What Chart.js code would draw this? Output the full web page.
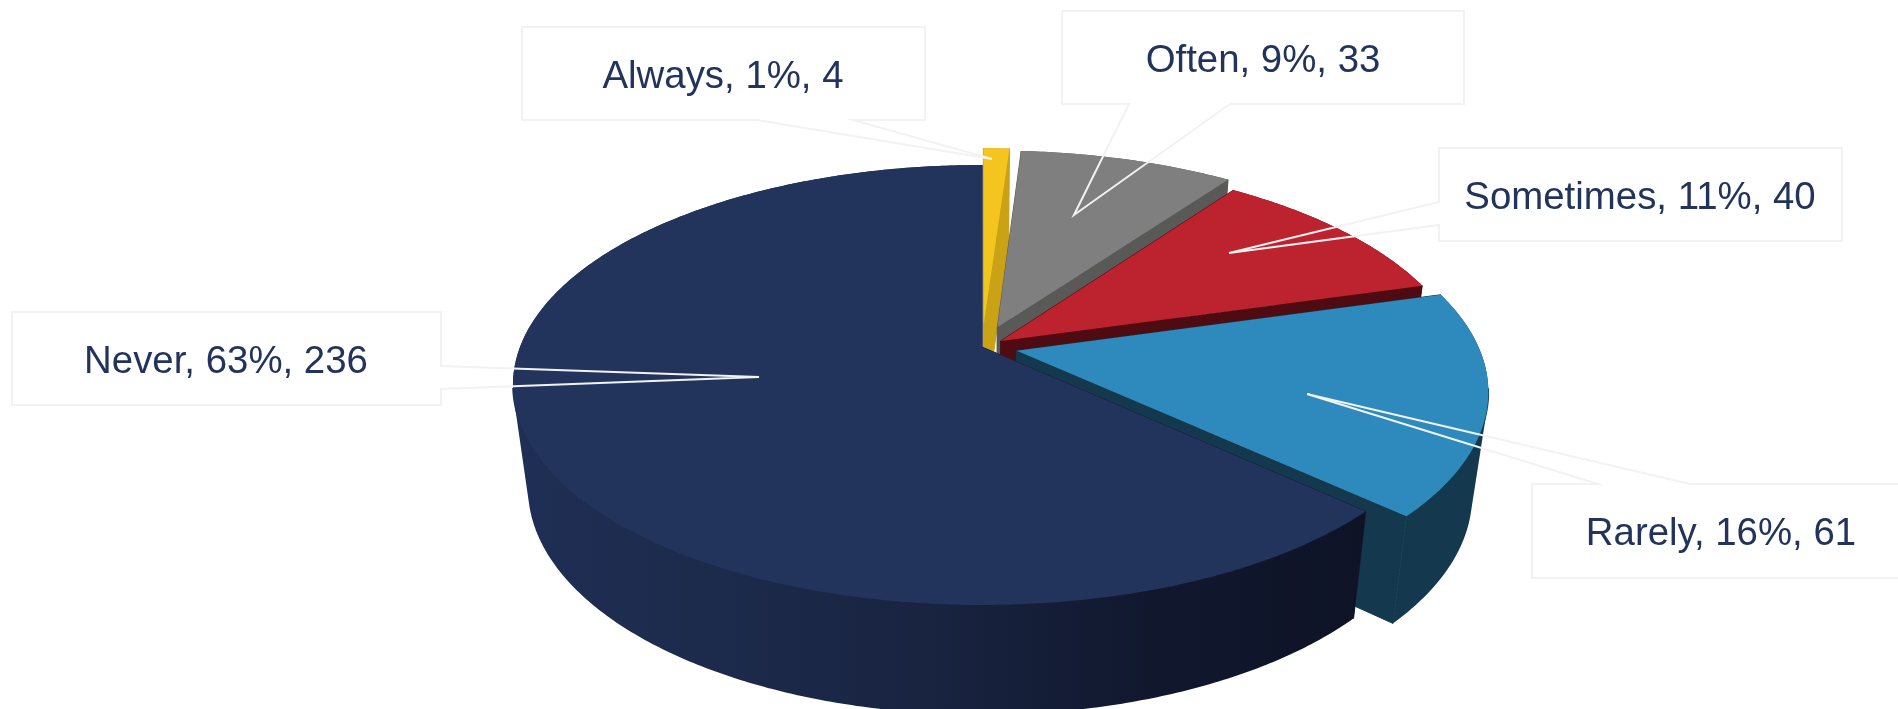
<!DOCTYPE html>
<html>
<head>
<meta charset="utf-8">
<title>Frequency pie</title>
<script src="https://cdn.jsdelivr.net/npm/chart.js@4"></script>
<style>
  html, body { margin: 0; padding: 0; background: #fff; overflow: hidden; }
  canvas { display: block; }
</style>
</head>
<body>
<canvas id="pieChart" width="1898" height="709"></canvas>
<script>
// data
const categories = ['Always', 'Often', 'Sometimes', 'Rarely', 'Never'];
const counts = [4, 33, 40, 61, 236];
const explode = [11, 10, 5, 7.7, 0]; // percent of the radius

// colours
const topColors = ['#F4C51F', '#7F7F7F', '#BD232E', '#2E8ABD', '#22335C'];
const cutColors = ['#C9A216', '#595957', '#4F0B12', '#14384D', '#14203C'];
const wallStops = [
    ['#C9A216', '#C9A216'],
    ['#595957', '#595957'],
    ['#4F0B12', '#4F0B12'],
    ['#14384D', '#14384D'],
    ['#1F2E54', '#1C2A4B', '#18233F', '#11182E', '#0E1326']
];

// callouts: box, pointer base on the box edge, tip, text centre and baseline
const callouts = [
    { box: [522, 27, 925, 120], base: [[853, 120], [757, 120]], side: 'bottom', tip: [992, 159], text: [723, 88] },
    { box: [1062, 11, 1464, 104], base: [[1230, 104], [1129, 104]], side: 'bottom', tip: [1074, 215], text: [1263, 72] },
    { box: [1439, 148, 1842, 241], base: [[1439, 225], [1439, 202]], side: 'left', tip: [1229, 253], text: [1640, 209] },
    { box: [1532, 484, 1910, 578], base: [[1598, 484], [1690, 484]], side: 'top', tip: [1307, 394], text: [1721, 545] },
    { box: [12, 312, 441, 405], base: [[441, 366], [441, 389]], side: 'right', tip: [759, 377], text: [226, 373] }
];

// perspective of the disc
const RX = 462;
const RY = 213.4;
const TILT = 0.1727;
const DEPTH = 102;
const BASE_SCALE_X = 0.968;
const BASE_SCALE_Y = 1.03;

function project(cx, cy, u, v, bottom) {
    const w = 1 - TILT * v;
    return {
        x: cx + RX * (bottom ? BASE_SCALE_X : 1) * u / w,
        y: cy + (bottom ? DEPTH : 0) + RY * (bottom ? BASE_SCALE_Y : 1) * v / w
    };
}

function polygon(ctx, points) {
    ctx.beginPath();
    points.forEach((p, i) => (i ? ctx.lineTo(p.x, p.y) : ctx.moveTo(p.x, p.y)));
    ctx.closePath();
}

function arcPoints(el, ox, oy, bottom) {
    const pts = [];
    const steps = Math.max(2, Math.ceil((el.endAngle - el.startAngle) / 0.01));
    for (let i = 0; i <= steps; i++) {
        const a = el.startAngle + (el.endAngle - el.startAngle) * i / steps;
        pts.push(project(el.x, el.y, ox + Math.cos(a), oy + Math.sin(a), bottom));
    }
    return pts;
}

// all wall strips as one path, wound the same way, so no seams show between them
function wallPath(ctx, top, base) {
    ctx.beginPath();
    for (let s = 0; s < top.length - 1; s++) {
        let quad = [top[s], top[s + 1], base[s + 1], base[s]];
        let area = 0;
        quad.forEach((p, i) => {
            const q = quad[(i + 1) % 4];
            area += p.x * q.y - q.x * p.y;
        });
        if (area < 0) quad = quad.reverse();
        quad.forEach((p, i) => (i ? ctx.lineTo(p.x, p.y) : ctx.moveTo(p.x, p.y)));
        ctx.closePath();
    }
}

const pie3dPlugin = {
    id: 'pie3d',
    beforeDatasetDraw(chart) {
        const ctx = chart.ctx;
        const arcs = chart.getDatasetMeta(0).data;
        ctx.save();
        arcs.forEach((el, i) => {
            const o = el.options.offset / 100;
            const mid = (el.startAngle + el.endAngle) / 2;
            const ox = o * Math.cos(mid);
            const oy = o * Math.sin(mid);
            const top = arcPoints(el, ox, oy, false);
            const base = arcPoints(el, ox, oy, true);
            const apexTop = project(el.x, el.y, ox, oy, false);
            const apexBase = project(el.x, el.y, ox, oy, true);

            // cut faces
            ctx.fillStyle = cutColors[i];
            ctx.strokeStyle = cutColors[i];
            ctx.lineWidth = 1;
            polygon(ctx, [apexTop, top[0], base[0], apexBase]);
            ctx.fill();
            ctx.stroke();
            polygon(ctx, [apexTop, top[top.length - 1], base[base.length - 1], apexBase]);
            ctx.fill();
            ctx.stroke();

            // outer wall
            const xs = top.map((p) => p.x);
            const grad = ctx.createLinearGradient(Math.min(...xs), 0, Math.max(...xs), 0);
            wallStops[i].forEach((c, s) => grad.addColorStop(s / (wallStops[i].length - 1), c));
            ctx.fillStyle = grad;
            wallPath(ctx, top, base);
            ctx.fill();

            // front rim under the top face, closes the light seam along the edge
            const rim = top.filter((p) => p.y > el.y + 40);
            if (rim.length > 1) {
                ctx.strokeStyle = grad;
                ctx.lineWidth = 1.5;
                ctx.beginPath();
                rim.forEach((p, k) => (k ? ctx.lineTo(p.x, p.y) : ctx.moveTo(p.x, p.y)));
                ctx.stroke();
            }

            // top face
            ctx.fillStyle = topColors[i];
            polygon(ctx, [apexTop].concat(top));
            ctx.fill();
        });
        ctx.restore();
        return false;
    },
    afterDatasetsDraw(chart) {
        const ctx = chart.ctx;
        const total = counts.reduce((a, b) => a + b, 0);
        ctx.save();
        ctx.lineJoin = 'miter';
        callouts.forEach((c, i) => {
            const [x0, y0, x1, y1] = c.box;
            const b = c.base;
            const t = c.tip;
            ctx.beginPath();
            ctx.moveTo(x0, y0);
            if (c.side === 'top') { ctx.lineTo(b[0][0], b[0][1]); ctx.lineTo(t[0], t[1]); ctx.lineTo(b[1][0], b[1][1]); }
            ctx.lineTo(x1, y0);
            if (c.side === 'right') { ctx.lineTo(b[0][0], b[0][1]); ctx.lineTo(t[0], t[1]); ctx.lineTo(b[1][0], b[1][1]); }
            ctx.lineTo(x1, y1);
            if (c.side === 'bottom') { ctx.lineTo(b[0][0], b[0][1]); ctx.lineTo(t[0], t[1]); ctx.lineTo(b[1][0], b[1][1]); }
            ctx.lineTo(x0, y1);
            if (c.side === 'left') { ctx.lineTo(b[0][0], b[0][1]); ctx.lineTo(t[0], t[1]); ctx.lineTo(b[1][0], b[1][1]); }
            ctx.closePath();
            ctx.strokeStyle = '#F2F2F2';
            ctx.lineWidth = 2;
            ctx.stroke();

            const pct = Math.round(counts[i] / total * 100);
            ctx.fillStyle = '#22335C';
            ctx.font = '38.4px "Liberation Sans", Arial, sans-serif';
            ctx.textAlign = 'center';
            ctx.textBaseline = 'alphabetic';
            ctx.fillText(`${categories[i]}, ${pct}%, ${counts[i]}`, c.text[0], c.text[1]);
        });
        ctx.restore();
    }
};

new Chart(document.getElementById('pieChart'), {
    type: 'pie',
    plugins: [pie3dPlugin],
    data: {
        labels: categories,
        datasets: [{
            data: counts,
            backgroundColor: topColors,
            offset: explode,
            borderWidth: 0
        }]
    },
    options: {
        responsive: false,
        animation: false,
        layout: { padding: { left: 66, bottom: 15 } },
        plugins: {
            legend: { display: false },
            tooltip: { enabled: false }
        }
    }
});
</script>
</body>
</html>
